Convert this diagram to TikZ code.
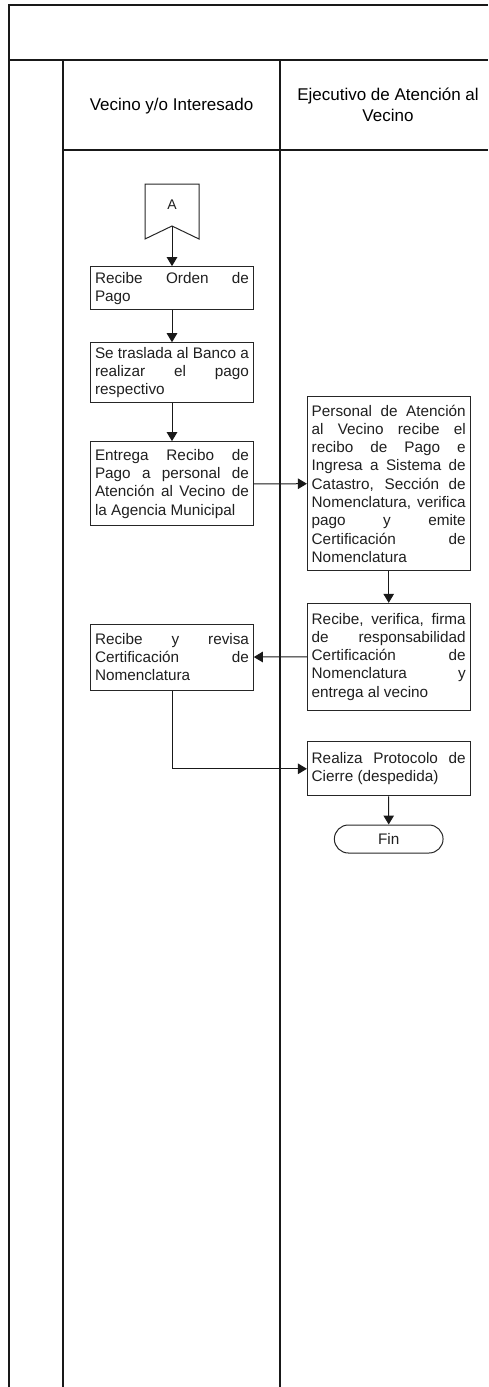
\documentclass[tikz,border=0pt]{standalone}
\usepackage{fontspec}
\setmainfont{Liberation Sans}
\usetikzlibrary{arrows.meta,shapes.misc}
\tolerance=10000
\hbadness=10000
\hyphenpenalty=10000
\begin{document}
\begin{tikzpicture}[x=1pt,y=-1pt,
  lane/.style={line width=1.4pt, draw=black!90},
  box/.style={draw=black!85, line width=1pt, text width=154pt, inner xsep=4.3pt, inner ysep=2pt,
    align=justify, font=\fontsize{15.3}{18.3}\selectfont, text=black!88},
  flow/.style={-{Triangle[length=9pt,width=10.5pt]}, line width=1pt, draw=black!90},
  hdr/.style={font=\fontsize{17}{20.5}\selectfont, align=center, text=black},
  conn/.style={draw=black!85, line width=1pt}]
\useasboundingbox (0,0) rectangle (488,1387);
% frame and lanes
\draw[lane] (9,1387) -- (9,5) -- (488,5);
\draw[lane] (9,60) -- (488,60);
\draw[lane] (63,1387) -- (63,60);
\draw[lane] (280,1387) -- (280,60);
\draw[lane] (63,150) -- (488,150);
\node[hdr] (h1) at (171.5,106) {Vecino y/o Interesado};
\node[hdr] (h2) at (388,105) {Ejecutivo de Atención al\\Vecino};
% off-page connector A
\draw[conn] (145,184) -- (199,184) -- (199,239) -- (172,226) -- (145,239) -- cycle;
\node[font=\fontsize{14}{16}\selectfont, text=black!88] (A) at (172,205) {A};
\coordinate (Ap) at (172,226);
% process boxes
\node[box, minimum height=43.3pt] (b1) at (172,288.3) {Recibe Orden de\linebreak Pago};
\node[box, minimum height=59.6pt] (b2) at (172,372.5) {Se traslada al Banco a\linebreak realizar el pago\linebreak respectivo};
\node[box, minimum height=84.3pt] (b3) at (172,483.8) {Entrega Recibo de\linebreak Pago a personal de\linebreak Atención al Vecino de\linebreak la Agencia Municipal};
\node[box, minimum height=174pt] (r1) at (388.7,483.7) {Personal de Atención\linebreak al Vecino recibe el\linebreak recibo de Pago e\linebreak Ingresa a Sistema de\linebreak Catastro, Sección de\linebreak Nomenclatura, verifica\linebreak pago y emite\linebreak Certificación de\linebreak Nomenclatura};
\node[box, minimum height=106.7pt] (r2) at (388.7,656.7) {Recibe, verifica, firma\linebreak de responsabilidad\linebreak Certificación de\linebreak Nomenclatura y\linebreak entrega al vecino};
\node[box, minimum height=65.7pt] (b4) at (172,657.2) {Recibe y revisa\linebreak Certificación de\linebreak Nomenclatura};
\node[box, minimum height=54.3pt] (r3) at (388.7,768.8) {Realiza Protocolo de\linebreak Cierre (despedida)};
\node[draw=black!85, line width=1pt, rounded rectangle, minimum width=108.7pt, minimum height=28pt, inner sep=0pt,
  font=\fontsize{15.3}{18}\selectfont, text=black!88] (fin) at (388.7,839) {Fin};
% connectors
\draw[flow] (Ap) -- (b1.north);
\draw[flow] (b1) -- (b2);
\draw[flow] (b2) -- (b3);
\draw[flow] (b3) -- (r1);
\draw[flow] (r1) -- (r2);
\draw[flow] (r2) -- (b4);
\draw[flow] (b4.south) |- (r3.west);
\draw[flow] (r3) -- (fin);
\end{tikzpicture}
\end{document}
